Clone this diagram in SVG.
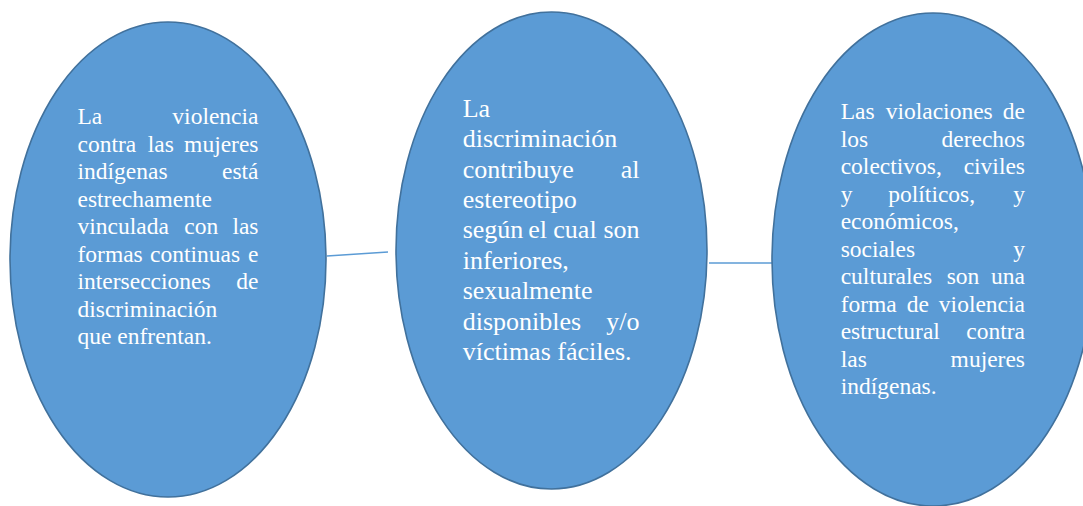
<svg xmlns="http://www.w3.org/2000/svg" width="1083" height="506" viewBox="0 0 1083 506">
  <style>
    .node ellipse { fill: #5b9bd5; stroke: #41719c; stroke-width: 1.6; }
    .conn line { stroke: #5b9bd5; stroke-width: 1.5; fill: none; }
    .e { text-anchor: end; }
  </style>
  <rect width="1083" height="506" fill="#ffffff"/>
  <g id="connectors" class="conn">
    <line x1="327" y1="256" x2="388" y2="252"/>
    <line x1="709" y1="263" x2="772" y2="263"/>
  </g>
  <g id="node-left" class="node">
    <ellipse cx="168" cy="259.5" rx="158" ry="237.5"/>
    <g font-family="Liberation Serif, Tinos, DejaVu Serif, serif" font-size="23.5" fill="#ffffff">
      <text x="77.5" y="124.3">La</text>
      <text class="e" x="258.5" y="124.3">violencia</text>
      <text x="77.5" y="151.8">contra</text>
      <text x="147.7" y="151.8">las</text>
      <text class="e" x="258.5" y="151.8">mujeres</text>
      <text x="77.5" y="179.3">indígenas</text>
      <text class="e" x="258.5" y="179.3">está</text>
      <text x="77.5" y="206.8">estrechamente</text>
      <text x="77.5" y="234.3">vinculada</text>
      <text x="184.3" y="234.3">con</text>
      <text class="e" x="258.5" y="234.3">las</text>
      <text x="77.5" y="261.8">formas</text>
      <text x="150" y="261.8">continuas</text>
      <text class="e" x="258.5" y="261.8">e</text>
      <text x="77.5" y="289.3">intersecciones</text>
      <text class="e" x="258.5" y="289.3">de</text>
      <text x="77.5" y="316.8">discriminación</text>
      <text x="77.5" y="344.3">que enfrentan.</text>
    </g>
  </g>
  <g id="node-middle" class="node">
    <ellipse cx="551.5" cy="250.5" rx="155.5" ry="238.5"/>
    <g font-family="Liberation Serif, Tinos, DejaVu Serif, serif" font-size="26" fill="#ffffff">
      <text x="462.7" y="116.7">La</text>
      <text x="462.7" y="147.1">discriminación</text>
      <text x="462.7" y="177.5">contribuye</text>
      <text class="e" x="639.5" y="177.5">al</text>
      <text x="462.7" y="207.9">estereotipo</text>
      <text x="462.7" y="238.3">según</text>
      <text x="528.3" y="238.3">el</text>
      <text x="553.3" y="238.3">cual</text>
      <text class="e" x="639.5" y="238.3">son</text>
      <text x="462.7" y="268.7">inferiores,</text>
      <text x="462.7" y="299.1">sexualmente</text>
      <text x="462.7" y="329.5">disponibles</text>
      <text class="e" x="639.5" y="329.5">y/o</text>
      <text x="462.7" y="359.9">víctimas fáciles.</text>
    </g>
  </g>
  <g id="node-right" class="node">
    <ellipse cx="933" cy="259.5" rx="161" ry="246.5"/>
    <g font-family="Liberation Serif, Tinos, DejaVu Serif, serif" font-size="23.5" fill="#ffffff">
      <text x="840.7" y="119.3">Las</text>
      <text x="885.7" y="119.3">violaciones</text>
      <text class="e" x="1025" y="119.3">de</text>
      <text x="840.7" y="146.8">los</text>
      <text class="e" x="1025" y="146.8">derechos</text>
      <text x="840.7" y="174.3">colectivos,</text>
      <text class="e" x="1025" y="174.3">civiles</text>
      <text x="840.7" y="201.8">y</text>
      <text x="888.3" y="201.8">políticos,</text>
      <text class="e" x="1025" y="201.8">y</text>
      <text x="840.7" y="229.3">económicos,</text>
      <text x="840.7" y="256.8">sociales</text>
      <text class="e" x="1025" y="256.8">y</text>
      <text x="840.7" y="284.3">culturales</text>
      <text x="946.7" y="284.3">son</text>
      <text class="e" x="1025" y="284.3">una</text>
      <text x="840.7" y="311.8">forma</text>
      <text x="906.7" y="311.8">de</text>
      <text class="e" x="1025" y="311.8">violencia</text>
      <text x="840.7" y="339.3">estructural</text>
      <text class="e" x="1025" y="339.3">contra</text>
      <text x="840.7" y="366.8">las</text>
      <text class="e" x="1025" y="366.8">mujeres</text>
      <text x="840.7" y="394.3">indígenas.</text>
    </g>
  </g>
</svg>
